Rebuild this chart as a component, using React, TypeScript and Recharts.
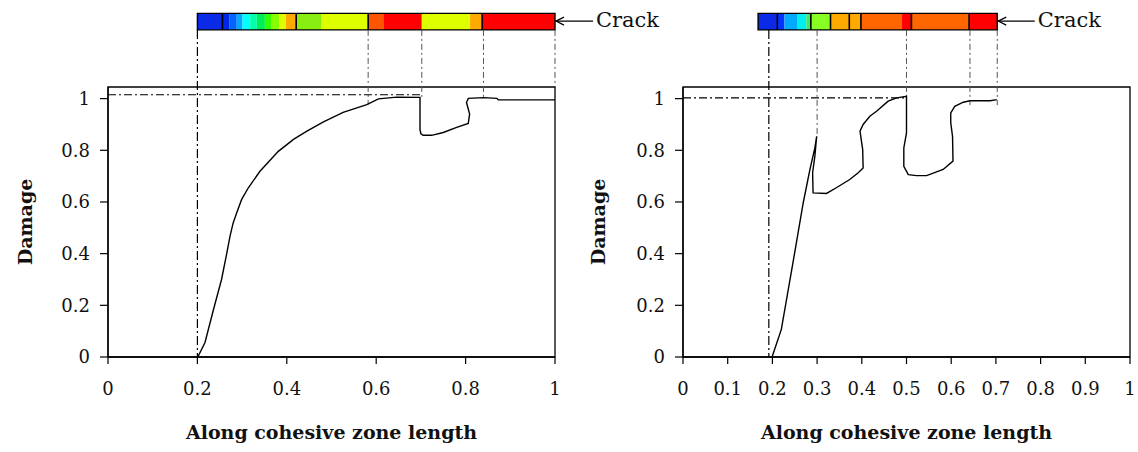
import React from 'react';
import { ComposedChart, Line, XAxis, YAxis, ReferenceArea, ReferenceLine } from 'recharts';

// damage profile, left panel
const leftCurveX = [0.202, 0.217, 0.236, 0.254, 0.266, 0.273, 0.28, 0.288, 0.299, 0.314, 0.34, 0.381, 0.415, 0.445, 0.482, 0.526, 0.579, 0.605, 0.646, 0.698, 0.698, 0.7, 0.705, 0.724, 0.75, 0.78, 0.806, 0.809, 0.802, 0.806, 0.84, 0.87, 0.873, 1.0];
const leftCurveY = [0.004, 0.056, 0.184, 0.3, 0.404, 0.468, 0.519, 0.558, 0.61, 0.655, 0.719, 0.796, 0.842, 0.874, 0.91, 0.947, 0.977, 0.999, 1.006, 1.005, 0.88, 0.864, 0.858, 0.858, 0.869, 0.889, 0.904, 0.94, 0.985, 1.001, 1.004, 1.001, 0.995, 0.995];

// damage profile, right panel
const rightCurveX = [0.2, 0.22, 0.246, 0.269, 0.284, 0.295, 0.299, 0.295, 0.29, 0.291, 0.321, 0.343, 0.373, 0.392, 0.403, 0.402, 0.396, 0.403, 0.418, 0.433, 0.459, 0.478, 0.5, 0.5, 0.494, 0.494, 0.504, 0.522, 0.545, 0.582, 0.604, 0.603, 0.599, 0.599, 0.608, 0.627, 0.642, 0.687, 0.702];
const rightCurveY = [0.004, 0.107, 0.365, 0.597, 0.726, 0.809, 0.854, 0.777, 0.713, 0.635, 0.633, 0.655, 0.687, 0.713, 0.732, 0.803, 0.874, 0.9, 0.932, 0.951, 0.99, 1.003, 1.009, 0.867, 0.809, 0.738, 0.706, 0.702, 0.702, 0.726, 0.758, 0.854, 0.906, 0.945, 0.97, 0.986, 0.992, 0.992, 0.996];

// colour strips above each panel
const leftStripEdges = [0.2, 0.256, 0.271, 0.288, 0.301, 0.318, 0.333, 0.351, 0.366, 0.383, 0.398, 0.421, 0.478, 0.582, 0.616, 0.702, 0.81, 0.837, 1.0];
const leftStripColors = ['#0a2ae8', '#0026ee', '#0066ff', '#00aaff', '#00ffff', '#00ffaa', '#00ee55', '#33ff00', '#88ff00', '#ddff00', '#ffaa00', '#88ee11', '#ddff00', '#ff5500', '#ff0000', '#ddff00', '#ffaa00', '#ff0000'];
const leftStripDividers = [0.256, 0.421, 0.582, 0.837];

const rightStripEdges = [0.168, 0.211, 0.227, 0.255, 0.276, 0.286, 0.33, 0.372, 0.398, 0.49, 0.511, 0.64, 0.703];
const rightStripColors = ['#0a2ae8', '#0033ff', '#00aaff', '#00eeee', '#33ee66', '#88ff22', '#ffaa00', '#ffaa00', '#ff6600', '#ff0000', '#ff6600', '#ff0000'];
const rightStripDividers = [0.211, 0.286, 0.33, 0.372, 0.398, 0.511, 0.64];

// vertical guide lines from strip down to the curve
const leftGuideX = [0.2, 0.582, 0.702, 0.84, 1.0];
const leftGuideEnd = [0, 0.977, 1.005, 1.004, 1.045];
const rightGuideX = [0.192, 0.3, 0.5, 0.642, 0.703];
const rightGuideEnd = [0, 0.85, 1.009, 0.975, 0.975];

const leftLevel = { x: 0.702, y: 1.015 };
const rightLevel = { x: 0.5, y: 1.003 };

const leftXTicks = [0, 0.2, 0.4, 0.6, 0.8, 1];
const rightXTicks = [0, 0.1, 0.2, 0.3, 0.4, 0.5, 0.6, 0.7, 0.8, 0.9, 1];
const yTicks = [0, 0.2, 0.4, 0.6, 0.8, 1];

const Y_TOP = 1.045;
const STRIP_BOTTOM = 1.266;
const STRIP_TOP = 1.33;
const STRIP_MID = 1.3;
const FONT = '"DejaVu Serif", serif';

const CrackArrow = (props: any) => {
    const { x1, y1, x2 } = props;
    return (
        <g>
            <line x1={x1} y1={y1} x2={x2} y2={y1} stroke="#000" strokeWidth={1.2} />
            <path d={`M${x1 + 9},${y1 - 4} L${x1 + 1},${y1} L${x1 + 9},${y1 + 4}`} fill="none" stroke="#000" strokeWidth={1.2} />
            <text x={x2 + 3} y={y1 - 1} dominantBaseline="central" fontFamily={FONT} fontSize={21} fill="#111">Crack</text>
        </g>
    );
};

const DamageLabel = ({ viewBox, dx }: any) => {
    const cx = viewBox.x + dx;
    const cy = viewBox.y + viewBox.height / 2;
    return (
        <text x={cx} y={cy} transform={`rotate(-90, ${cx}, ${cy})`} textAnchor="middle" dominantBaseline="central" fontFamily={FONT} fontWeight="bold" fontSize={19} fill="#111">
            Damage
        </text>
    );
};

interface PanelProps {
    width: number;
    yAxisWidth: number;
    marginRight: number;
    labelDx: number;
    curveX: number[];
    curveY: number[];
    xTicks: number[];
    stripEdges: number[];
    stripColors: string[];
    stripDividers: number[];
    guideX: number[];
    guideEnd: number[];
    level: { x: number; y: number };
    arrowEnd: number;
}

function Panel(p: PanelProps) {
    const data = p.curveX.map((x, i) => ({ x, y: p.curveY[i] }));
    const stripEnd = p.stripEdges[p.stripEdges.length - 1];
    return (
        <ComposedChart width={p.width} height={452} margin={{ top: 87, right: p.marginRight, bottom: 24, left: 0 }}>
            <XAxis
                type="number"
                dataKey="x"
                domain={[0, 1]}
                ticks={p.xTicks}
                interval={0}
                allowDataOverflow
                tickSize={7}
                tickMargin={18}
                height={71}
                axisLine={{ stroke: '#000', strokeWidth: 1.3 }}
                tickLine={{ stroke: '#000', strokeWidth: 1.2 }}
                tick={{ fill: '#111', fontSize: 18, fontFamily: FONT }}
                label={{ value: 'Along cohesive zone length', position: 'bottom', offset: -2, fill: '#111', fontSize: 19, fontWeight: 'bold', fontFamily: FONT }}
            />
            <YAxis
                type="number"
                dataKey="y"
                domain={[0, Y_TOP]}
                ticks={yTicks}
                interval={0}
                allowDataOverflow
                width={p.yAxisWidth}
                tickSize={8}
                tickMargin={10}
                axisLine={{ stroke: '#000', strokeWidth: 1.3 }}
                tickLine={{ stroke: '#000', strokeWidth: 1.2 }}
                tick={{ fill: '#111', fontSize: 18, fontFamily: FONT }}
                label={<DamageLabel dx={p.labelDx} />}
            />
            <ReferenceArea x1={0} x2={1} y1={0} y2={Y_TOP} fill="none" stroke="#000" strokeWidth={1.3} ifOverflow="visible" />
            {p.stripColors.map((c, i) => (
                <ReferenceArea key={`s${i}`} x1={p.stripEdges[i]} x2={p.stripEdges[i + 1]} y1={STRIP_BOTTOM} y2={STRIP_TOP} fill={c} fillOpacity={1} stroke="none" ifOverflow="visible" />
            ))}
            {p.stripDividers.map((d, i) => (
                <ReferenceLine key={`d${i}`} segment={[{ x: d, y: STRIP_BOTTOM }, { x: d, y: STRIP_TOP }]} stroke="#000" strokeWidth={1.6} ifOverflow="visible" />
            ))}
            <ReferenceArea x1={p.stripEdges[0]} x2={stripEnd} y1={STRIP_BOTTOM} y2={STRIP_TOP} fill="none" stroke="#000" strokeWidth={1.4} ifOverflow="visible" />
            <ReferenceLine segment={[{ x: stripEnd, y: STRIP_MID }, { x: p.arrowEnd, y: STRIP_MID }]} shape={<CrackArrow />} ifOverflow="visible" />
            {p.guideX.map((g, i) => (
                <ReferenceLine
                    key={`g${i}`}
                    segment={[{ x: g, y: STRIP_BOTTOM }, { x: g, y: p.guideEnd[i] }]}
                    stroke={i === 0 ? '#000' : '#555'}
                    strokeWidth={i === 0 ? 1.2 : 1}
                    strokeDasharray={i === 0 ? '9 3 2 3' : '6 3 2 3'}
                    ifOverflow="visible"
                />
            ))}
            <ReferenceLine segment={[{ x: 0, y: p.level.y }, { x: p.level.x, y: p.level.y }]} stroke="#000" strokeWidth={1.1} strokeDasharray="8 3 2 3" ifOverflow="visible" />
            <Line data={data} dataKey="y" type="linear" stroke="#000" strokeWidth={1.4} dot={false} isAnimationActive={false} />
        </ComposedChart>
    );
}

export default function App() {
    return (
        <div style={{ position: 'absolute', left: 0, top: 0, width: 1138, height: 452, background: '#fff' }}>
            <div style={{ position: 'absolute', left: 0, top: 0 }}>
                <Panel
                    width={700}
                    yAxisWidth={108}
                    marginRight={145}
                    labelDx={25}
                    curveX={leftCurveX}
                    curveY={leftCurveY}
                    xTicks={leftXTicks}
                    stripEdges={leftStripEdges}
                    stripColors={leftStripColors}
                    stripDividers={leftStripDividers}
                    guideX={leftGuideX}
                    guideEnd={leftGuideEnd}
                    level={leftLevel}
                    arrowEnd={1.085}
                />
            </div>
            <div style={{ position: 'absolute', left: 570, top: 0 }}>
                <Panel
                    width={568}
                    yAxisWidth={113}
                    marginRight={8}
                    labelDx={28}
                    curveX={rightCurveX}
                    curveY={rightCurveY}
                    xTicks={rightXTicks}
                    stripEdges={rightStripEdges}
                    stripColors={rightStripColors}
                    stripDividers={rightStripDividers}
                    guideX={rightGuideX}
                    guideEnd={rightGuideEnd}
                    level={rightLevel}
                    arrowEnd={0.787}
                />
            </div>
        </div>
    );
}
